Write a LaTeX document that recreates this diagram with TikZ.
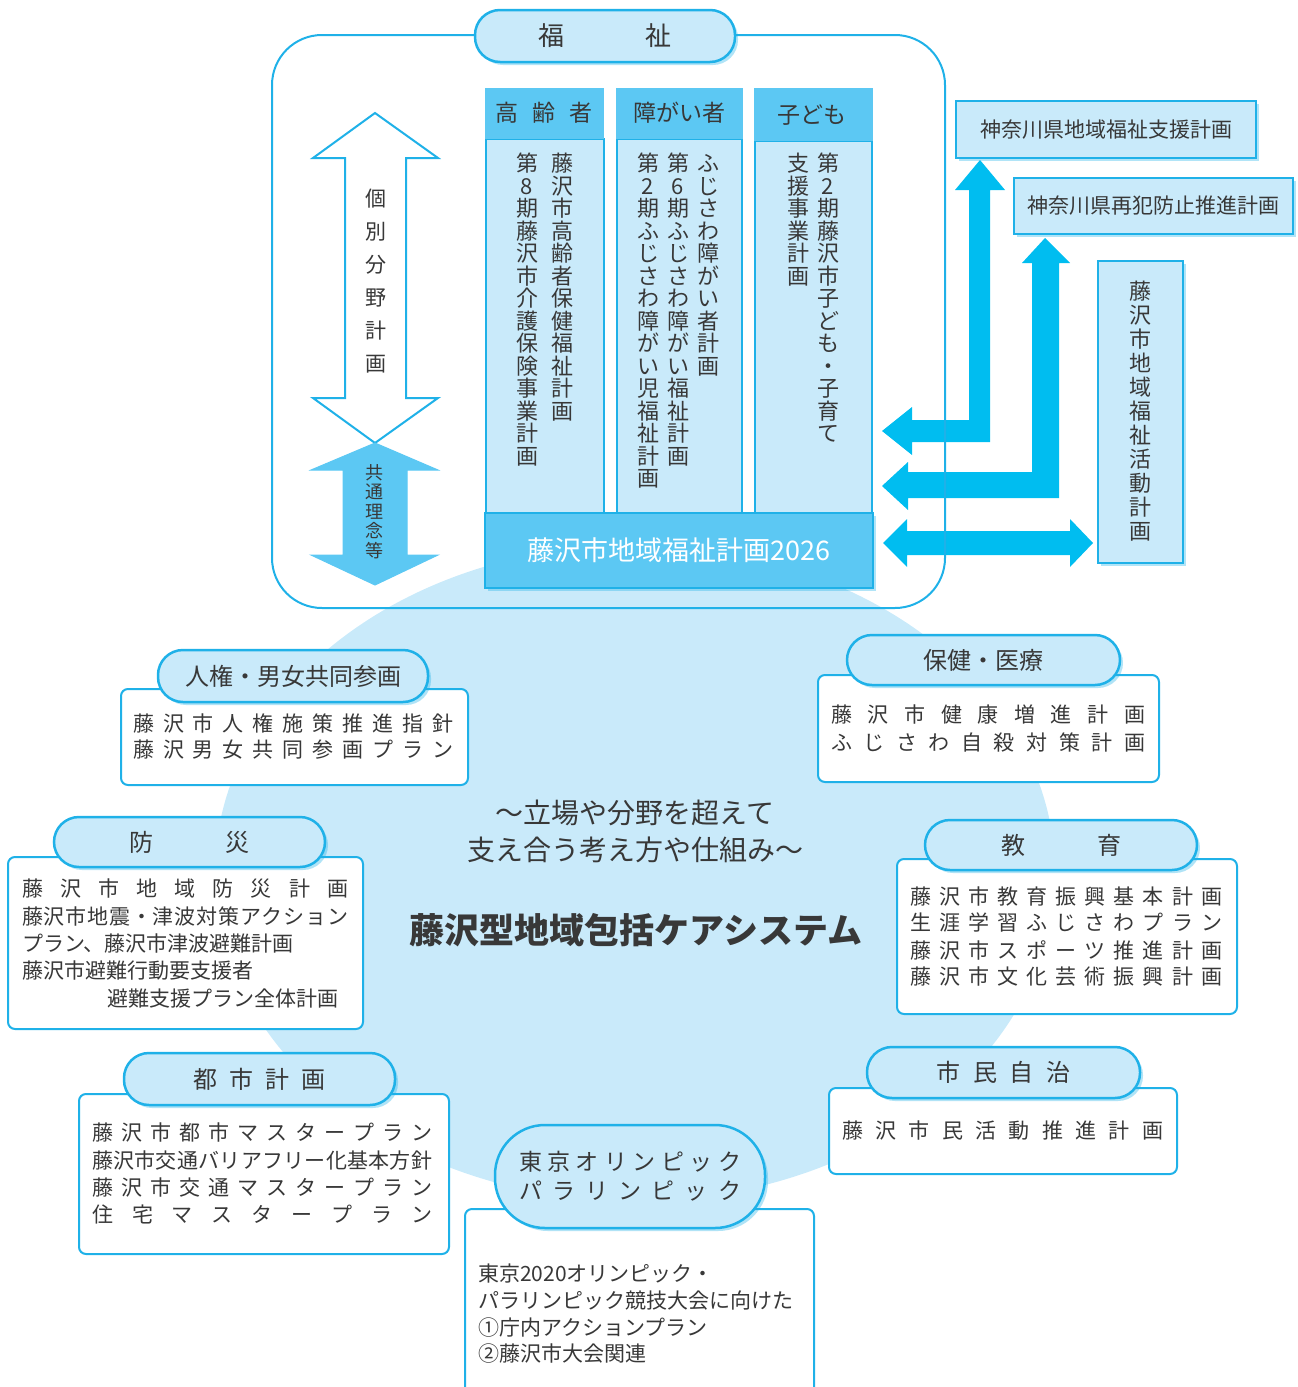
\documentclass[tikz,border=0pt]{standalone}
\usepackage{fontspec}
\setmainfont{Noto Sans CJK JP}
\usetikzlibrary{shadows}
\definecolor{lb}{HTML}{C9EAFA}
\definecolor{ln}{HTML}{1FB1E8}
\definecolor{hd}{HTML}{5CC8F3}
\definecolor{ar}{HTML}{00BDF0}
\definecolor{tx}{HTML}{383838}
\ExplSyntaxOn
\NewDocumentCommand\spread{mm}{\hbox_to_wd:nn{#1}{\tl_map_inline:nn{#2}{##1\hfil}\unskip}}
\NewDocumentCommand\vtext{mm}{\vbox{\offinterlineskip\tl_map_inline:nn{#2}{\hbox_to_wd:nn{1em}{\hss\vrule~width~0pt~height~0.88em~depth~0.12em\relax ##1\hss}\kern#1\relax}}}
\ExplSyntaxOff
\newcommand\myfs[1]{\fontsize{#1}{#1}\selectfont}
\begin{document}
\begin{tikzpicture}[x=1pt,y=-1pt,
  every node/.style={inner sep=0pt,text=tx},
  shd/.style={drop shadow={shadow xshift=3pt,shadow yshift=-3pt,fill=ln,opacity=0.35}},
  pill/.style={draw=ln,line width=2.5pt,fill=lb,rounded corners=25pt,shd,font=\myfs{24}},
  colb/.style={anchor=north west,draw=ln,fill=lb,line width=2pt},
  hdb/.style={anchor=north west,draw=hd,fill=hd,line width=1pt},
  rbox/.style={anchor=north west,draw=ln,fill=lb,line width=2pt,shd,font=\myfs{21}},
  cbox/.style={draw=ln,fill=white,line width=2pt,rounded corners=7pt},
  ln21/.style={anchor=west,font=\myfs{21}},
  vt/.style={anchor=north,font=\myfs{22}},
  arr/.style={fill=ar}]
\useasboundingbox (0,0) rectangle (1298,1387);
% background ellipse
\fill[lb] (635,873) ellipse [x radius=420pt, y radius=328pt];
% right block arrows
\fill[arr] (980,160) -- (1005,190) -- (990,190) -- (990,442) -- (912,442) -- (912,455) -- (882,431) -- (912,407) -- (912,420) -- (969,420) -- (969,190) -- (955,190) -- cycle;
\fill[arr] (1045,238) -- (1070,263) -- (1059,263) -- (1059,498) -- (908,498) -- (908,510) -- (882,486) -- (908,462) -- (908,472) -- (1032,472) -- (1032,263) -- (1022,263) -- cycle;
\fill[arr] (883,543) -- (907,519) -- (907,531) -- (1070,531) -- (1070,519) -- (1093,543) -- (1070,567) -- (1070,555) -- (907,555) -- (907,567) -- cycle;
% welfare frame
\draw[ln,line width=2pt,rounded corners=50pt] (272,35) rectangle (945,608);
% left double arrows
\draw[ln,line width=2pt,fill=white,line join=miter] (375,113) -- (438,158) -- (406,158) -- (406,398) -- (438,398) -- (375,443) -- (313,398) -- (345,398) -- (345,158) -- (313,158) -- cycle;
\draw[hd,line width=1pt,fill=hd] (375,443) -- (438,470) -- (407,470) -- (407,555) -- (438,555) -- (375,585) -- (311,555) -- (343,555) -- (343,470) -- (311,470) -- cycle;
\node[vt,font=\myfs{21}] (kobetsu) at (376,188) {\vtext{12pt}{個別分野計画}};
\node[vt,font=\myfs{18}] (kyotsu) at (374,463) {\vtext{1.5pt}{共通理念等}};
% columns
\node[colb,minimum width=118pt,minimum height=374pt] (c1) at (485,138) {};
\node[colb,minimum width=125pt,minimum height=374pt] (c2) at (616,138) {};
\node[colb,minimum width=117pt,minimum height=372pt] (c3) at (754,140) {};
\node[hdb,minimum width=118pt,minimum height=50pt] (h1) at (485,88) {};
\node[hdb,minimum width=126pt,minimum height=50pt] (h2) at (616,88) {};
\node[hdb,minimum width=118pt,minimum height=52pt] (h3) at (754,88) {};
\node[font=\myfs{23}] (h1t) at (544,113) {\spread{97pt}{高齢者}};
\node[font=\myfs{23}] (h2t) at (679,113) {障がい者};
\node[font=\myfs{23}] (h3t) at (812,115) {子ども};
\node[vt] (v1a) at (562,152) {\vtext{0.5pt}{藤沢市高齢者保健福祉計画}};
\node[vt] (v1b) at (527,152) {\vtext{0.5pt}{第8期藤沢市介護保険事業計画}};
\node[vt] (v2a) at (708,152) {\vtext{0.5pt}{ふじさわ障がい者計画}};
\node[vt] (v2b) at (678,152) {\vtext{0.5pt}{第6期ふじさわ障がい福祉計画}};
\node[vt] (v2c) at (648,152) {\vtext{0.5pt}{第2期ふじさわ障がい児福祉計画}};
\node[vt] (v3a) at (828,152) {\vtext{0.5pt}{第2期藤沢市子ども・子育て}};
\node[vt] (v3b) at (798,152) {\vtext{0.5pt}{支援事業計画}};
\node[hdb,draw=ln,line width=1.5pt,shd,minimum width=388pt,minimum height=75pt,text=white,font=\myfs{27}] (plan) at (484,512) {藤沢市地域福祉計画2026};
% welfare title pill
\node[pill,minimum width=260pt,minimum height=52pt,font=\myfs{26}] (fukushi) at (605,36) {\spread{133pt}{福祉}};
% right boxes
\node[rbox,minimum width=300pt,minimum height=57pt] (k1) at (955,100) {神奈川県地域福祉支援計画};
\node[rbox,minimum width=279pt,minimum height=56pt] (k2) at (1013,177) {神奈川県再犯防止推進計画};
\node[rbox,minimum width=85pt,minimum height=302pt,font=\myfs{22}] (k3) at (1097,260) {\vtext{2pt}{藤沢市地域福祉活動計画}};
% centre texts
\node[font=\myfs{28}] (m1) at (635,813) {～立場や分野を超えて};
\node[font=\myfs{28}] (m2) at (635,850) {支え合う考え方や仕組み～};
\node[font=\myfs{35}\bfseries] (m3) at (636,930) {藤沢型地域包括ケアシステム};
% human rights
\node[cbox,anchor=north west,minimum width=347pt,minimum height=96pt] (b1) at (120,688) {};
\node[pill,minimum width=270pt,minimum height=52pt] (p1) at (293,676) {人権・男女共同参画};
\node[ln21] (b1a) at (133,723) {\spread{320pt}{藤沢市人権施策推進指針}};
\node[ln21] (b1b) at (133,750) {\spread{320pt}{藤沢男女共同参画プラン}};
% disaster
\node[cbox,anchor=north west,minimum width=355pt,minimum height=172pt] (b2) at (7,856) {};
\node[pill,minimum width=271pt,minimum height=50pt] (p2) at (189.5,842) {\spread{120pt}{防災}};
\node[ln21] (b2a) at (22,888) {\spread{326pt}{藤沢市地域防災計画}};
\node[ln21] (b2b) at (22,916) {\spread{326pt}{藤沢市地震・津波対策アクション}};
\node[ln21] (b2c) at (22,943) {プラン、藤沢市津波避難計画};
\node[ln21] (b2d) at (22,971) {藤沢市避難行動要支援者};
\node[ln21] (b2e) at (107,999) {避難支援プラン全体計画};
% health
\node[cbox,anchor=north west,minimum width=341pt,minimum height=107pt] (b3) at (817,674) {};
\node[pill,minimum width=273pt,minimum height=50pt] (p3) at (983.5,660) {保健・医療};
\node[ln21] (b3a) at (831,714) {\spread{314pt}{藤沢市健康増進計画}};
\node[ln21] (b3b) at (831,742) {\spread{314pt}{ふじさわ自殺対策計画}};
% education
\node[cbox,anchor=north west,minimum width=340pt,minimum height=155pt] (b4) at (896,858) {};
\node[pill,minimum width=272pt,minimum height=50pt] (p4) at (1061,845) {\spread{120pt}{教育}};
\node[ln21] (b4a) at (910,896) {\spread{312pt}{藤沢市教育振興基本計画}};
\node[ln21] (b4b) at (910,922) {\spread{312pt}{生涯学習ふじさわプラン}};
\node[ln21] (b4c) at (910,950) {\spread{312pt}{藤沢市スポーツ推進計画}};
\node[ln21] (b4d) at (910,977) {\spread{312pt}{藤沢市文化芸術振興計画}};
% city planning
\node[cbox,anchor=north west,minimum width=370pt,minimum height=160pt] (b5) at (78,1093) {};
\node[pill,minimum width=271pt,minimum height=52pt] (p5) at (259.5,1079) {\spread{132pt}{都市計画}};
\node[ln21] (b5a) at (92,1132) {\spread{340pt}{藤沢市都市マスタープラン}};
\node[ln21] (b5b) at (92,1160) {\spread{340pt}{藤沢市交通バリアフリー化基本方針}};
\node[ln21] (b5c) at (92,1187) {\spread{340pt}{藤沢市交通マスタープラン}};
\node[ln21] (b5d) at (92,1214) {\spread{340pt}{住宅マスタープラン}};
% citizens
\node[cbox,anchor=north west,minimum width=348pt,minimum height=86pt] (b6) at (828,1087) {};
\node[pill,minimum width=273pt,minimum height=51pt] (p6) at (1003.5,1072.5) {\spread{134pt}{市民自治}};
\node[ln21] (b6a) at (842,1131) {\spread{321pt}{藤沢市民活動推進計画}};
% olympics
\node[cbox,anchor=north west,minimum width=349pt,minimum height=200pt] (b7) at (464,1208) {};
\node[pill,rounded corners=50pt,minimum width=270pt,minimum height=103pt,align=center,font=\fontsize{23}{29}\selectfont] (p7) at (630,1176.5) {\spread{222pt}{東京オリンピック}\\\spread{222pt}{パラリンピック}};
\node[ln21] (b7a) at (478,1273) {東京2020オリンピック・};
\node[ln21] (b7b) at (478,1301) {パラリンピック競技大会に向けた};
\node[ln21] (b7c) at (478,1328) {①庁内アクションプラン};
\node[ln21] (b7d) at (478,1354) {②藤沢市大会関連};
\end{tikzpicture}
\end{document}
